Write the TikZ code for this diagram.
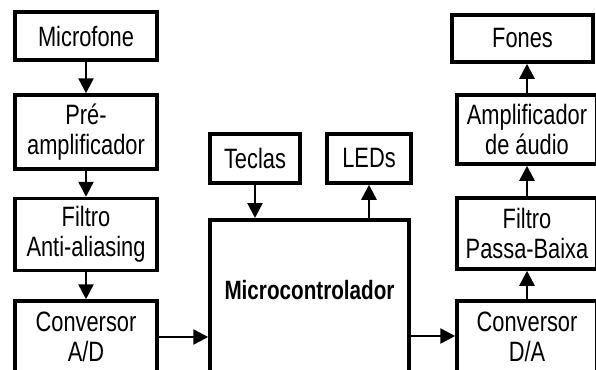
\documentclass[tikz,border=0pt]{standalone}
\usepackage{fontspec}
\setmainfont{Liberation Sans}[FakeStretch=0.78]
\usetikzlibrary{arrows.meta}
\begin{document}
\begin{tikzpicture}[x=1pt,y=1pt,
  blk/.style={draw, line width=3.5pt, inner sep=0pt, align=center,
    font=\fontsize{28}{30}\selectfont},
  conn/.style={line width=2.5pt, -{Triangle[width=15pt,length=15pt]}}]
\useasboundingbox (0,-369) rectangle (596,0);
\clip (0,-369) rectangle (596,0);
% left column
\node[blk, minimum width=142, minimum height=48] (mic) at (86,-36) {Microfone};
\node[blk, minimum width=142, minimum height=74] (pre) at (86,-132) {Pré-\\amplificador};
\node[blk, minimum width=142, minimum height=72] (faa) at (86,-234.5) {Filtro\\Anti-aliasing};
\node[blk, minimum width=142, minimum height=72] (adc) at (86,-337) {Conversor\\A/D};
% middle
\node[blk, minimum width=90, minimum height=49] (tec) at (255,-158.5) {Teclas};
\node[blk, minimum width=84, minimum height=49] (led) at (369,-158.5) {LEDs};
\node[blk, minimum width=199, minimum height=220, anchor=north] (mcu) at (309.5,-218) {};
\node[font=\fontsize{26.5}{28}\selectfont\bfseries, inner sep=0pt] (mcut) at ([yshift=-72]mcu.north) {Microcontrolador};
% right column
\node[blk, minimum width=141, minimum height=47] (fon) at (522.5,-38.5) {Fones};
\node[blk, minimum width=140, minimum height=69] (amp) at (527,-129.5) {Amplificador\\de áudio};
\node[blk, minimum width=140, minimum height=71] (fpb) at (527,-233.5) {Filtro\\Passa-Baixa};
\node[blk, minimum width=140, minimum height=72] (dac) at (527,-337) {Conversor\\D/A};
% connectors
\draw[conn] (mic.south) -- (pre.north);
\draw[conn] (pre.south) -- (faa.north);
\draw[conn] (faa.south) -- (adc.north);
\draw[conn] (adc.east) -- (adc.east -| mcu.west);
\draw[conn] (tec.south) -- (tec.south |- mcu.north);
\draw[conn] (led.south |- mcu.north) -- (led.south);
\draw[conn] ([yshift=1]dac.west -| mcu.east) -- ([yshift=1]dac.west);
\draw[conn] (dac.north) -- (fpb.south);
\draw[conn] (fpb.north) -- (amp.south);
\draw[conn] (amp.north) -- (amp.north |- fon.south);
\end{tikzpicture}
\end{document}
